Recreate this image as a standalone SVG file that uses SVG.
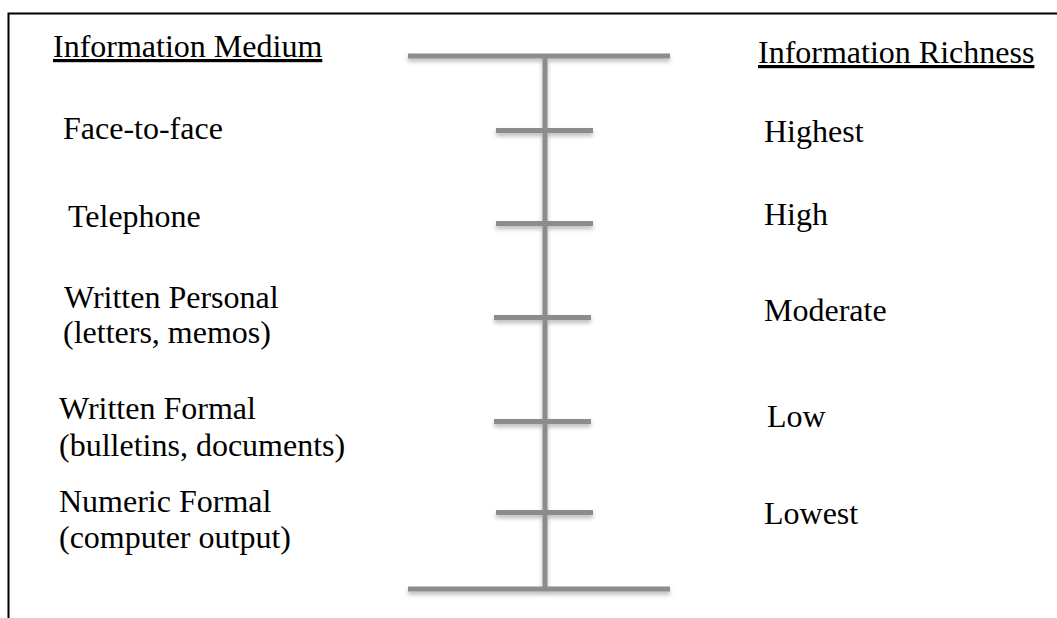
<svg xmlns="http://www.w3.org/2000/svg" width="1057" height="618" viewBox="0 0 1057 618">
<style>
  text { font-family: "Liberation Serif", "Times New Roman", serif; font-size: 32px; fill: #000; }
  .bar { stroke: #8c8c8c; stroke-width: 5; fill: none; }
</style>
<defs>
  <filter id="sh" x="-10%" y="-50%" width="120%" height="300%">
    <feDropShadow dx="0" dy="3" stdDeviation="2" flood-color="#000" flood-opacity="0.28"/>
  </filter>
</defs>
<rect x="0" y="0" width="1057" height="618" fill="#fff"/>
<rect x="8.5" y="13.5" width="1060" height="620" fill="none" stroke="#000" stroke-width="2"/>
<g id="scale" filter="url(#sh)">
  <line class="bar" x1="408" y1="56" x2="670" y2="56"/>
  <line class="bar" x1="545" y1="56" x2="545" y2="589"/>
  <line class="bar" x1="408" y1="589" x2="670" y2="589"/>
  <line class="bar" x1="496" y1="130.5" x2="593" y2="130.5"/>
  <line class="bar" x1="496" y1="223.5" x2="593" y2="223.5"/>
  <line class="bar" x1="494" y1="317.5" x2="591" y2="317.5"/>
  <line class="bar" x1="494" y1="421.5" x2="591" y2="421.5"/>
  <line class="bar" x1="496" y1="512.5" x2="593" y2="512.5"/>
</g>
<g id="header-medium">
  <text x="53" y="57" text-decoration="underline">Information Medium</text>
</g>
<g id="header-richness">
  <text x="758" y="63" text-decoration="underline">Information Richness</text>
</g>
<g id="medium-1"><text x="63" y="139">Face-to-face</text></g>
<g id="medium-2"><text x="68" y="227">Telephone</text></g>
<g id="medium-3"><text x="64" y="308">Written Personal</text><text x="63" y="343">(letters, memos)</text></g>
<g id="medium-4"><text x="59" y="419">Written Formal</text><text x="59" y="456">(bulletins, documents)</text></g>
<g id="medium-5"><text x="59" y="512">Numeric Formal</text><text x="59" y="548">(computer output)</text></g>
<g id="rich-1"><text x="764" y="142">Highest</text></g>
<g id="rich-2"><text x="764" y="225">High</text></g>
<g id="rich-3"><text x="764" y="321">Moderate</text></g>
<g id="rich-4"><text x="767" y="427">Low</text></g>
<g id="rich-5"><text x="764" y="524">Lowest</text></g>
</svg>
